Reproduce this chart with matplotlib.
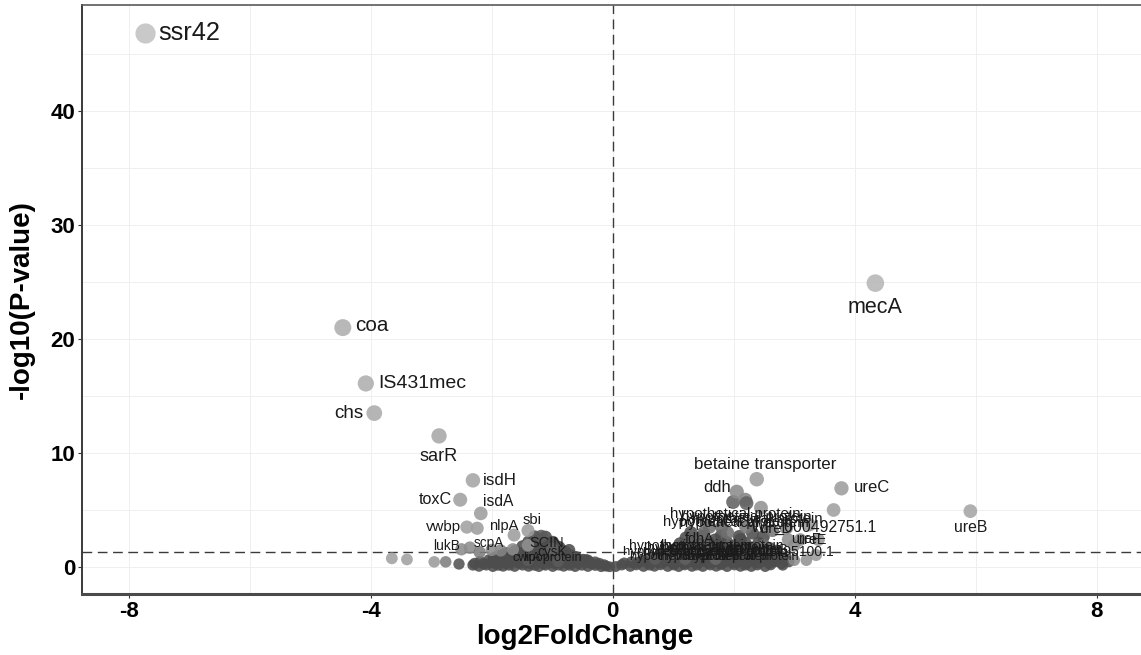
import matplotlib.pyplot as plt
import numpy as np

plt.rcParams["font.family"] = "Liberation Sans"
plt.rcParams["axes.unicode_minus"] = False

# labelled genes: log2 fold change, -log10(p), grey shade (0 dark .. 1 light)
genes = [
    "ssr42", "mecA", "coa", "IS431mec", "chs", "sarR", "isdH", "toxC",
    "isdA", "vwbp", "nlpA", "sbi", "lukB", "scpA", "SCIN", "cysK", "cwrA",
    "lipoprotein", "betaine transporter", "ddh", "ureC", "ureB",
    "WP_000492751.1", "ureD", "fdhA", "ureF", "ureE", "ureG",
    "WP_001495100.1",
] + ["hypothetical protein"] * 14
gene_lfc = [
    -7.72, 4.34, -4.46, -4.08, -3.94, -2.87, -2.31, -2.52,
    -2.18, -2.41, -1.63, -1.40, -2.50, -2.00, -1.18, -1.00, -1.40,
    -0.90, 2.38, 2.05, 3.78, 5.91,
    3.65, 2.64, 1.30, 2.90, 3.10, 2.50,
    3.00,
    1.6, 1.8, 2.2, 1.5, 1.9, 1.1, 1.3, 1.5, 0.8, 1.0, 1.4, 0.7, 1.2, 1.7,
]
gene_nlp = [
    46.8, 24.9, 21.0, 16.1, 13.5, 11.5, 7.6, 5.9,
    4.7, 3.5, 2.8, 3.2, 1.55, 1.5, 2.7, 1.6, 0.6,
    0.5, 7.7, 6.6, 6.9, 4.9,
    5.0, 3.2, 2.4, 2.4, 2.4, 1.9,
    1.9,
    3.5, 3.5, 3.5, 3.0, 3.0, 1.9, 1.9, 1.9, 1.1, 1.1, 1.5, 0.7, 0.7, 0.7,
]
gene_shade = [
    0.98, 0.90, 0.85, 0.85, 0.82, 0.80, 0.78, 0.75,
    0.72, 0.75, 0.72, 0.72, 0.60, 0.60, 0.25, 0.30, 0.25,
    0.25, 0.72, 0.60, 0.72, 0.78,
    0.75, 0.45, 0.30, 0.60, 0.60, 0.40,
    0.60,
    0.40, 0.35, 0.45, 0.35, 0.40, 0.30, 0.30, 0.35, 0.25, 0.30, 0.35, 0.25, 0.30, 0.35,
]

# label placement (pixels from the point) as ggrepel left it
label_dx = [
    13, 0, 12, 12, -11, 0, 10, -8,
    17, -6, -10, 4, -15, -3, 5, 0, -1,
    -6, 8, -20, 12, 0,
    44, 4, 8, 18, 11, 9,
    40,
    26, 25, 11, 24, 17, 11, 17, 19, 19, 27, 31, 31, 30, 27,
]
label_dy = [
    0, -24, 2, 0, 0, -21, 0, 0,
    12, 0, 9, 11, 3, 7, -7, -3, 2,
    3, 15, 4, 1, -16,
    -17, 2, 1, 1, 0, -5,
    -6,
    13, 10, 8, 11, 10, -1, -3, -1, 2, 1, -2, 2, 2, 2,
]
label_ha = (["left", "center", "left", "left", "right", "center", "left", "right",
             "center", "right"] + ["center"] * 10 + ["left", "center",
             "right"] + ["center"] * 5 + ["right"] + ["center"] * 14)

# other genes standing out of the cloud
other_lfc = [-2.24, -1.40, -2.36, -1.65, -2.20, -1.85, -3.65, -3.40, -2.95,
             -2.76, -2.54, 1.99, 2.19, 2.21, 2.45, 3.25, 2.87, 3.36, 3.20,
             3.00, 3.40]
other_nlp = [3.4, 1.9, 1.7, 1.55, 1.3, 1.45, 0.76, 0.66, 0.45,
             0.45, 0.26, 5.7, 5.9, 5.6, 5.2, 3.7, 3.4, 1.05, 0.6,
             0.6, 2.4]
other_shade = [0.72, 0.65, 0.60, 0.60, 0.50, 0.55, 0.75, 0.75, 0.70,
               0.50, 0.20, 0.30, 0.55, 0.30, 0.65, 0.70, 0.60, 0.70, 0.65,
               0.60, 0.65]

# bulk of genes with p close to 1
bulk_lfc = [
    # left of zero
    -2.21, -1.98, -1.81, -1.62, -1.39, -1.22, -0.99, -0.81, -0.62, -0.41, -0.19, -0.05,
    -2.31, -2.09, -1.89, -1.71, -1.49, -1.29, -1.11, -0.89, -0.71, -0.51, -0.29, -0.11,
    -2.28, -2.13, -1.94, -1.76, -1.54, -1.36, -1.14, -0.96, -0.74, -0.56, -0.34, -0.14,
    -2.19, -1.99, -1.79, -1.59, -1.41, -1.19, -1.01, -0.79, -0.61, -0.39, -0.22,
    -2.04, -1.86, -1.64, -1.46, -1.24, -1.06, -0.84, -0.66, -0.44, -0.29,
    -1.97, -1.77, -1.57, -1.39, -1.17, -0.99, -0.77, -0.59, -0.41,
    -1.91, -1.69, -1.52, -1.29, -1.11, -0.89, -0.71, -0.49,
    -1.83, -1.61, -1.41, -1.19, -1.01, -0.81, -0.61,
    -1.76, -1.49, -1.31, -1.09, -0.91, -0.69,
    -1.61, -1.39, -1.19, -0.99, -0.81,
    -1.41, -1.21, -0.79,
    -1.49, -1.29, -1.11, -0.91, -0.72,
    -1.31, -1.09, -0.88,
    -1.39, -1.19, -0.99,
    -1.21, -1.02,
    -1.29, -1.11,
    # right of zero
    0.05, 0.29, 0.51, 0.69, 0.91, 1.09, 1.31, 1.49, 1.71, 1.89, 2.11, 2.29, 2.52,
    0.15, 0.39, 0.61, 0.79, 1.01, 1.19, 1.39, 1.61, 1.79, 2.01, 2.19, 2.39, 2.61, 2.81,
    0.19, 0.41, 0.59, 0.81, 1.01, 1.19, 1.41, 1.59, 1.81, 1.99, 2.21, 2.41, 2.59, 2.79,
    0.31, 0.49, 0.71, 0.89, 1.11, 1.29, 1.51, 1.69, 1.89, 2.11, 2.29, 2.51, 2.69, 2.91,
    0.49, 0.91, 1.09, 1.31, 1.49, 1.91, 2.09, 2.31, 2.49, 2.71,
    0.61, 0.79, 1.01, 1.21, 1.39, 1.61, 1.79, 2.01, 2.21, 2.39, 2.59, 2.81,
    1.21, 1.61, 1.79, 2.01, 2.19, 2.41, 2.61,
    0.91, 1.11, 1.29, 1.51, 1.71, 1.89, 2.09, 2.31, 2.49, 2.69,
    0.99, 1.21, 1.59, 1.81, 2.01, 2.29, 2.71,
    1.01, 1.19, 1.41, 1.61, 1.81, 2.09, 2.29, 2.59,
    1.74, 2.02,
    1.11, 1.31, 1.59, 1.89, 2.19, 2.41,
    1.41, 1.69, 2.11,
    1.21, 1.49, 1.79, 2.09, 2.49,
    1.29, 2.31,
]
bulk_nlp = [
    # left of zero
    0.06, 0.04, 0.07, 0.05, 0.06, 0.04, 0.05, 0.07, 0.04, 0.05, 0.03, 0.02,
    0.17, 0.18, 0.16, 0.17, 0.18, 0.16, 0.17, 0.18, 0.16, 0.17, 0.15, 0.08,
    0.31, 0.28, 0.33, 0.29, 0.32, 0.30, 0.27, 0.31, 0.29, 0.32, 0.28, 0.18,
    0.46, 0.45, 0.47, 0.46, 0.44, 0.47, 0.45, 0.46, 0.44, 0.41, 0.30,
    0.62, 0.58, 0.61, 0.63, 0.59, 0.62, 0.60, 0.57, 0.61, 0.42,
    0.76, 0.77, 0.75, 0.78, 0.76, 0.74, 0.77, 0.75, 0.58,
    0.91, 0.88, 0.92, 0.90, 0.89, 0.93, 0.87, 0.64,
    1.05, 1.06, 1.04, 1.07, 1.05, 1.03, 0.88,
    1.21, 1.18, 1.22, 1.24, 1.19, 1.02,
    1.42, 1.41, 1.43, 1.40, 1.22,
    1.62, 1.58, 1.36,
    1.80, 1.82, 1.79, 1.78, 1.48,
    2.02, 1.98, 1.71,
    2.20, 2.22, 2.18,
    2.41, 2.12,
    2.65, 2.62,
    # right of zero
    0.04, 0.06, 0.05, 0.07, 0.05, 0.04, 0.06, 0.05, 0.07, 0.04, 0.06, 0.05, 0.04,
    0.19, 0.20, 0.18, 0.21, 0.19, 0.20, 0.18, 0.19, 0.21, 0.20, 0.18, 0.19, 0.20, 0.17,
    0.33, 0.36, 0.34, 0.37, 0.35, 0.33, 0.36, 0.34, 0.35, 0.37, 0.33, 0.36, 0.34, 0.32,
    0.42, 0.52, 0.51, 0.53, 0.52, 0.50, 0.53, 0.51, 0.52, 0.50, 0.53, 0.51, 0.49, 0.48,
    0.58, 0.71, 0.72, 0.69, 0.70, 0.73, 0.68, 0.71, 0.69, 0.66,
    0.74, 0.90, 0.91, 0.89, 0.92, 0.90, 0.88, 0.91, 0.89, 0.87, 0.90, 0.86,
    1.11, 1.08, 1.12, 1.09, 1.10, 1.07, 1.02,
    1.10, 1.30, 1.31, 1.29, 1.32, 1.30, 1.28, 1.31, 1.29, 1.27,
    1.38, 1.52, 1.49, 1.53, 1.48, 1.51, 1.42,
    1.52, 1.70, 1.71, 1.69, 1.72, 1.70, 1.68, 1.66,
    1.91, 1.88,
    2.05, 2.15, 2.16, 2.14, 2.12, 2.10,
    2.42, 2.38, 2.41,
    2.55, 2.70, 2.72, 2.68, 2.66,
    3.02, 2.98,
]

p_cut = 0.05


def point_size(nlp):
    r = 5.3 + 0.7 * np.sqrt(np.asarray(nlp))  # radius in px
    return (2 * r * 0.72) ** 2


def label_size(nlp):
    return 8.0 + 1.5 * np.sqrt(nlp)


fig = plt.figure(figsize=(11.41, 6.55), dpi=100)
ax = fig.add_axes([82 / 1141, 61 / 655, 1 - 82 / 1141, 589 / 655])

gray = dict(cmap="gray", vmin=-0.4, vmax=1.42, alpha=0.88, linewidths=0)
ax.scatter(bulk_lfc, bulk_nlp, s=point_size(bulk_nlp),
           c=[0.15] * len(bulk_lfc), zorder=2, **gray)
ax.scatter(other_lfc, other_nlp, s=point_size(other_nlp), c=other_shade,
           zorder=3, **gray)
ax.scatter(gene_lfc, gene_nlp, s=point_size(gene_nlp), c=gene_shade,
           zorder=4, **gray)

for g, x, y, dx, dy, ha in zip(genes, gene_lfc, gene_nlp, label_dx, label_dy, label_ha):
    ax.annotate(g, (x, y), xytext=(dx, dy), textcoords="offset pixels",
                ha=ha, va="center", fontsize=label_size(y), color="#1a1a1a",
                zorder=5)

ax.axvline(0, color="#3a3a3a", lw=1.0, ls=(0, (7, 4)), zorder=1.5)
ax.axhline(-np.log10(p_cut), color="#3a3a3a", lw=1.0, ls=(0, (7, 4)), zorder=1.5)

ax.set_xlim(-8.77, 8.73)
ax.set_ylim(-2.37, 49.3)
ax.set_xticks([-8, -4, 0, 4, 8])
ax.set_xticks([-6, -2, 2, 6], minor=True)
ax.set_yticks([0, 10, 20, 30, 40])
ax.set_yticks([5, 15, 25, 35, 45], minor=True)
ax.grid(True, which="both", color="#efefef", lw=0.7, zorder=0)
ax.set_axisbelow(True)

ax.tick_params(which="major", length=3, width=0.8, color="#333333",
               labelsize=16, pad=2)
ax.tick_params(which="minor", length=0)
for lab in ax.get_xticklabels() + ax.get_yticklabels():
    lab.set_fontweight("bold")

ax.spines["right"].set_visible(False)
ax.spines["left"].set_color("#3a3a3a")
ax.spines["left"].set_linewidth(1.4)
ax.spines["bottom"].set_color("#4a4a4a")
ax.spines["bottom"].set_linewidth(2.2)
ax.spines["top"].set_color("#5a5a5a")
ax.spines["top"].set_linewidth(1.2)

ax.set_xlabel("log2FoldChange", fontsize=20, fontweight="bold")
ax.set_ylabel("-log10(P-value)", fontsize=20, fontweight="bold")
ax.xaxis.set_label_coords((585 - 82) / 1059, -(637 - 594) / 589)
ax.xaxis.label.set_va("center")
ax.yaxis.set_label_coords(-(82 - 22) / 1059, 0.5)
ax.yaxis.label.set_va("center")

fig.savefig("out.png", dpi=100)
